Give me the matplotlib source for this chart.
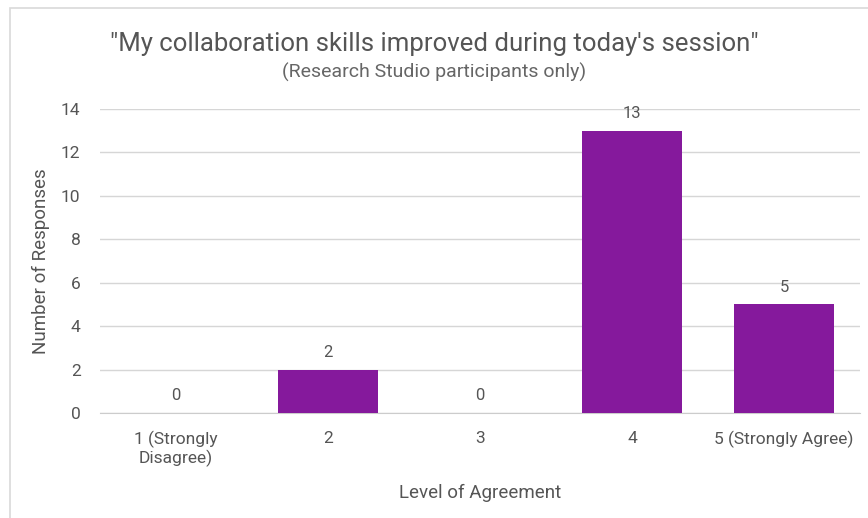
import matplotlib.pyplot as plt
from matplotlib.patches import Rectangle

categories = ['1 (Strongly\nDisagree)', '2', '3', '4', '5 (Strongly Agree)']
responses = [0, 2, 0, 13, 5]
y_ticks = [0, 2, 4, 6, 8, 10, 12, 14]

plt.rcParams['font.family'] = ['Roboto', 'DejaVu Sans']

fig = plt.figure(figsize=(8.68, 5.18), dpi=100)
ax = fig.add_axes([100 / 868, 1 - 413 / 518, 760 / 868, 304 / 518])

# light frame round the chart
fig.patches.append(Rectangle((10 / 868, -0.01), 1.0, 1 - 8 / 518 + 0.01,
                             transform=fig.transFigure, fill=False,
                             edgecolor='#d9d9d9', linewidth=1.2))

x = range(len(categories))
ax.bar(x, responses, width=0.66, color='#85199c', zorder=3)
for i, v in enumerate(responses):
    ax.text(i, v + 0.45, str(v), ha='center', va='bottom',
            fontsize=12, color='#555555')

ax.set_xlim(-0.5, len(categories) - 0.5)
ax.set_ylim(0, 14)
ax.set_yticks(y_ticks)
ax.set_xticks(list(x))
ax.set_xticklabels(categories, linespacing=1.1)
ax.grid(axis='y', color='#d6d6d6', linewidth=1, zorder=0)
for s in ax.spines.values():
    s.set_visible(False)
ax.spines['bottom'].set_visible(True)
ax.spines['bottom'].set_color('#cccccc')
ax.tick_params(length=0, labelsize=12.5, colors='#555555')
ax.tick_params(axis='y', pad=14)
ax.tick_params(axis='x', pad=13)

ax.set_ylabel('Number of Responses', fontsize=13.5, color='#555555', labelpad=8)
ax.set_xlabel('Level of Agreement', fontsize=13.5, color='#555555', labelpad=12)

fig.text(0.5, 1 - 44 / 518, '"My collaboration skills improved during today\'s session"',
         ha='center', va='center', fontsize=18.5, color='#555555')
fig.text(0.5, 1 - 72 / 518, '(Research Studio participants only)',
         ha='center', va='center', fontsize=14, color='#666666')

fig.savefig('out.png', dpi=100)
